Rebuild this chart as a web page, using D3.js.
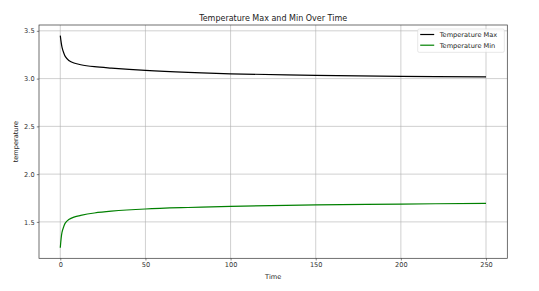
<!DOCTYPE html>
<html>
<head>
<meta charset="utf-8">
<script src="https://cdn.jsdelivr.net/npm/d3@7"></script>
<style>
  body { margin: 0; background: #fff; }
  svg { display: block; font-family: "DejaVu Sans", sans-serif; }
</style>
</head>
<body>
<svg></svg>
<script>
// values
const time = [0, 1, 2, 3, 5, 8, 12, 20, 30, 50, 75, 100, 150, 200, 250];
const temp_max = [3.45, 3.33, 3.27, 3.23, 3.19, 3.163, 3.145, 3.125, 3.11, 3.086, 3.065, 3.05, 3.034, 3.024, 3.018];
const temp_min = [1.23, 1.39, 1.45, 1.49, 1.525, 1.55, 1.568, 1.593, 1.612, 1.635, 1.651, 1.663, 1.678, 1.687, 1.694];
const x_ticks = [0, 50, 100, 150, 200, 250];
const y_ticks = [1.5, 2.0, 2.5, 3.0, 3.5];
const series = [
    { name: "Temperature Max", values: temp_max, color: "#000000" },
    { name: "Temperature Min", values: temp_min, color: "#008000" }
];

const W = 539, H = 291;
const margin = { top: 25, right: 31.7, bottom: 32.7, left: 39 };
const width = W - margin.left - margin.right;
const height = H - margin.top - margin.bottom;

const svg = d3.select("svg").attr("width", W).attr("height", H);
const g = svg.append("g")
    .attr("transform", "translate(" + margin.left + "," + margin.top + ")");

// matplotlib style 5% padding
const xpad = (d3.max(time) - d3.min(time)) * 0.05;
const allY = temp_max.concat(temp_min);
const ypad = (d3.max(allY) - d3.min(allY)) * 0.05;

const x = d3.scaleLinear()
    .domain([d3.min(time) - xpad, d3.max(time) + xpad])
    .range([0, width]);
const y = d3.scaleLinear()
    .domain([d3.min(allY) - ypad, d3.max(allY) + ypad])
    .range([height, 0]);

// grid
g.append("g").selectAll("line").data(x_ticks).join("line")
    .attr("x1", d => x(d)).attr("x2", d => x(d))
    .attr("y1", 0).attr("y2", height)
    .attr("stroke", "#b0b0b0").attr("stroke-width", 0.6);
g.append("g").selectAll("line").data(y_ticks).join("line")
    .attr("y1", d => y(d)).attr("y2", d => y(d))
    .attr("x1", 0).attr("x2", width)
    .attr("stroke", "#b0b0b0").attr("stroke-width", 0.6);

// axes
const xAxis = g.append("g")
    .attr("transform", "translate(0," + height + ")")
    .call(d3.axisBottom(x).tickValues(x_ticks).tickFormat(d3.format("d"))
        .tickSize(2.2).tickPadding(2));
const yAxis = g.append("g")
    .call(d3.axisLeft(y).tickValues(y_ticks).tickFormat(d3.format(".1f"))
        .tickSize(2.2).tickPadding(2.2));
[xAxis, yAxis].forEach(a => {
    a.select(".domain").remove();
    a.selectAll("line").attr("stroke", "#333").attr("stroke-width", 0.6);
    a.selectAll("text").attr("font-size", "6.6px").attr("fill", "#333")
        .attr("font-family", "DejaVu Sans");
});

// lines
const line = vals => d3.line()
    .x((d, i) => x(time[i]))
    .y(d => y(d))
    .curve(d3.curveCatmullRom.alpha(0.5))(vals);

g.selectAll("path.series").data(series).join("path")
    .attr("class", "series")
    .attr("d", d => line(d.values))
    .attr("fill", "none")
    .attr("stroke", d => d.color)
    .attr("stroke-width", 1.2);

// frame
g.append("rect")
    .attr("width", width).attr("height", height)
    .attr("fill", "none").attr("stroke", "#333").attr("stroke-width", 0.7);

// title & labels
svg.append("text")
    .attr("x", margin.left + width / 2).attr("y", 20.5)
    .attr("text-anchor", "middle").attr("font-size", "8px").attr("fill", "#222")
    .text("Temperature Max and Min Over Time");
svg.append("text")
    .attr("x", margin.left + width / 2).attr("y", 279)
    .attr("text-anchor", "middle").attr("font-size", "6.6px").attr("fill", "#222")
    .text("Time");
svg.append("text")
    .attr("transform", "translate(17.5," + (margin.top + height / 2) + ") rotate(-90)")
    .attr("text-anchor", "middle").attr("font-size", "6.6px").attr("fill", "#222")
    .text("temperature");

// legend
const legend = svg.append("g").attr("transform", "translate(417.7,29)");
legend.append("rect")
    .attr("width", 86.6).attr("height", 23.3).attr("rx", 1.5)
    .attr("fill", "#fff").attr("fill-opacity", 0.8)
    .attr("stroke", "#d6d6d6").attr("stroke-width", 0.6);
const item = legend.selectAll("g.item").data(series).join("g")
    .attr("class", "item")
    .attr("transform", (d, i) => "translate(0," + (5.5 + i * 10.7) + ")");
item.append("line")
    .attr("x1", 2.5).attr("x2", 16.5)
    .attr("stroke", d => d.color).attr("stroke-width", 1.2);
item.append("text")
    .attr("x", 22).attr("dy", "0.35em")
    .attr("font-size", "6.6px").attr("fill", "#222")
    .text(d => d.name);
</script>
</body>
</html>
